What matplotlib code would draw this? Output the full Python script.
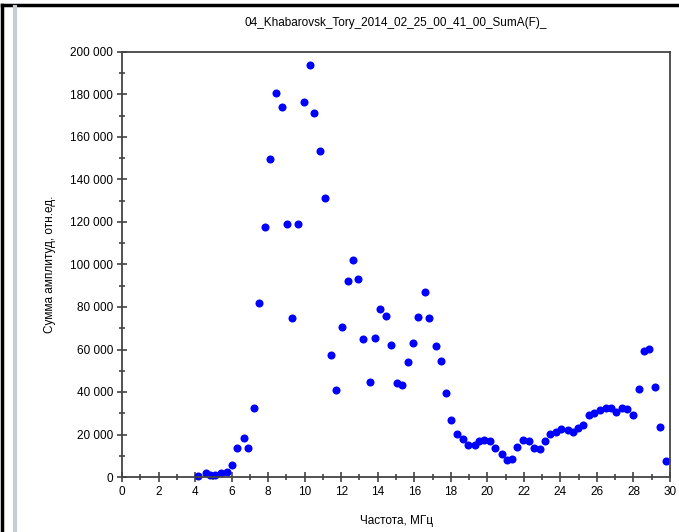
import matplotlib.pyplot as plt
from matplotlib.ticker import MultipleLocator, FuncFormatter
from matplotlib.lines import Line2D

plt.rcParams['font.family'] = ['Liberation Sans', 'DejaVu Sans']

title = '04_Khabarovsk_Tory_2014_02_25_00_41_00_SumA(F)_'
xlabel = 'Частота, МГц'
ylabel = 'Сумма амплитуд, отн.ед.'

# frequency, MHz
freq = [4.18, 4.58, 4.82, 5.09, 5.40, 5.73, 6.00, 6.31, 6.66, 6.91,
        7.22, 7.50, 7.83, 8.10, 8.43, 8.76, 9.01, 9.32, 9.62, 9.95,
        10.27, 10.53, 10.82, 11.11, 11.44, 11.71, 12.06, 12.35, 12.63, 12.90,
        13.21, 13.56, 13.83, 14.14, 14.47, 14.72, 15.04, 15.33, 15.65, 15.91,
        16.22, 16.57, 16.82, 17.17, 17.44, 17.75, 18.01, 18.34, 18.68, 18.94,
        19.30, 19.56, 19.83, 20.13, 20.43, 20.78, 21.06, 21.36, 21.62, 21.93,
        22.28, 22.55, 22.90, 23.15, 23.43, 23.74, 24.05, 24.39, 24.67, 24.97,
        25.25, 25.54, 25.83, 26.16, 26.47, 26.75, 27.06, 27.35, 27.66, 27.95,
        28.28, 28.59, 28.86, 29.17, 29.45, 29.79]
# sum of amplitudes
suma = [600, 2000, 800, 800, 2000, 2500, 5600, 13800, 18500, 13800,
        32500, 81900, 117800, 149800, 180600, 174100, 119100, 74800, 119100, 176500,
        193900, 171300, 153300, 131100, 57400, 41100, 70700, 92400, 102100, 93300,
        64900, 44700, 65600, 78900, 75900, 62100, 44100, 43300, 54000, 63200,
        75400, 87000, 75000, 61500, 54600, 39500, 26700, 20400, 18000, 15100,
        15100, 16800, 17400, 16800, 13800, 11000, 7800, 8600, 14000, 17400,
        16800, 13800, 13300, 16800, 20400, 21300, 22600, 22100, 21300, 23200,
        24300, 29000, 30100, 31400, 32600, 32600, 30700, 32600, 31900, 29000,
        41300, 59300, 60400, 42400, 23700, 7500]

fig = plt.figure(figsize=(6.79, 5.32), dpi=100)
ax = fig.add_axes([122/679, 55/532, 548/679, 425/532])

ax.plot(freq, suma, 'o', color='#0000ff', markersize=5.8, markeredgewidth=0, clip_on=False)

ax.set_xlim(0, 30)
ax.set_ylim(0, 200000)
ax.xaxis.set_major_locator(MultipleLocator(2))
ax.xaxis.set_minor_locator(MultipleLocator(1))
ax.yaxis.set_major_locator(MultipleLocator(20000))
ax.yaxis.set_minor_locator(MultipleLocator(10000))
ax.yaxis.set_major_formatter(FuncFormatter(lambda v, p: f'{int(v):,}'.replace(',', ' ')))
ax.tick_params(which='major', direction='inout', length=7, width=1.1, color='#333333',
               labelsize=8.5, pad=3)
ax.tick_params(which='minor', direction='inout', length=4, width=1.1, color='#333333')
for s in ax.spines.values():
    s.set_color('#444444')
    s.set_linewidth(1.3)

ax.set_title(title, fontsize=8.5, pad=19)
ax.set_xlabel(xlabel, fontsize=8.5, labelpad=12)
ax.set_ylabel(ylabel, fontsize=8.5, labelpad=10)

# window frame of the screenshot
fig.add_artist(Line2D([2/679, 2/679], [0, 1 - 5/532], color='black', lw=2.5))
fig.add_artist(Line2D([2/679, 1], [1 - 5/532, 1 - 5/532], color='black', lw=2.5))
fig.add_artist(Line2D([15/679, 15/679], [0, 1 - 7/532], color='#c8ccd4', lw=3))

fig.savefig('out.png', dpi=100)
